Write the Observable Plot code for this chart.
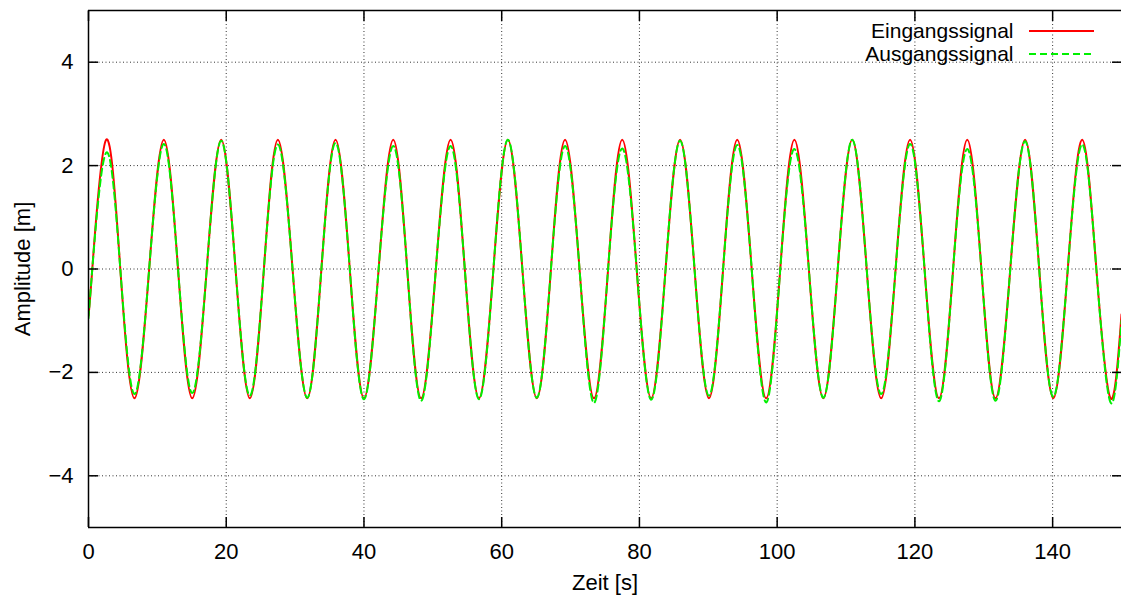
<!DOCTYPE html>
<html><head><meta charset="utf-8">
<script src="https://cdn.jsdelivr.net/npm/d3@7"></script>
<script src="https://cdn.jsdelivr.net/npm/@observablehq/plot@0.6"></script>
<style>body{margin:0;background:#fff} #chart{position:relative;width:1121px;height:602px}</style>
</head><body><div id="chart"></div>
<script>
// Knot times (s): start, zero crossings, peaks and troughs
const time = [0, 0.55,
  2.57, 4.62, 6.68, 8.81,
  10.94, 13.0, 15.06, 17.17,
  19.27, 21.35, 23.43, 25.47,
  27.5, 29.63, 31.76, 33.82,
  35.87, 37.94, 40.0, 42.13,
  44.25, 46.28, 48.3, 50.44,
  52.58, 54.64, 56.7, 58.8,
  60.9, 63.0, 65.1, 67.15,
  69.2, 71.3, 73.4, 75.45,
  77.5, 79.6, 81.7, 83.8,
  85.9, 88.0, 90.1, 92.15,
  94.2, 96.3, 98.4, 100.45,
  102.5, 104.6, 106.7, 108.8,
  110.9, 113.0, 115.1, 117.2,
  119.3, 121.4, 123.5, 125.55,
  127.6, 129.65, 131.7, 133.85,
  136.0, 138.05, 140.1, 142.2,
  144.3, 146.35, 148.4,
  150];
const eingang = [-0.9, 0,
  2.5, 0, -2.5, 0,
  2.5, 0, -2.5, 0,
  2.5, 0, -2.5, 0,
  2.5, 0, -2.5, 0,
  2.5, 0, -2.5, 0,
  2.5, 0, -2.5, 0,
  2.5, 0, -2.5, 0,
  2.5, 0, -2.5, 0,
  2.5, 0, -2.5, 0,
  2.5, 0, -2.5, 0,
  2.5, 0, -2.5, 0,
  2.5, 0, -2.5, 0,
  2.5, 0, -2.5, 0,
  2.5, 0, -2.5, 0,
  2.5, 0, -2.5, 0,
  2.5, 0, -2.5, 0,
  2.5, 0, -2.5, 0,
  2.5, 0, -2.5,
  -0.88];
const ausgang = [-0.95, 0,
  2.25, 0, -2.42, 0,
  2.42, 0, -2.40, 0,
  2.48, 0, -2.45, 0,
  2.41, 0, -2.49, 0,
  2.44, 0, -2.52, 0,
  2.38, 0, -2.55, 0,
  2.38, 0, -2.52, 0,
  2.50, 0, -2.49, 0,
  2.38, 0, -2.59, 0,
  2.33, 0, -2.53, 0,
  2.48, 0, -2.45, 0,
  2.40, 0, -2.58, 0,
  2.32, 0, -2.49, 0,
  2.50, 0, -2.42, 0,
  2.42, 0, -2.56, 0,
  2.32, 0, -2.55, 0,
  2.47, 0, -2.47, 0,
  2.41, 0, -2.58,
  -1.0];
const seriesNames = ["Eingangssignal", "Ausgangssignal"];
const seriesColors = ["#ff0000", "#00f000"];
const xTicks = [0, 20, 40, 60, 80, 100, 120, 140];
const yTicks = [-4, -2, 0, 2, 4];
const xGrid = [20, 40, 60, 80, 100, 120, 140];
const yGrid = [-4, -2, 0, 2, 4];
const xDomain = [0, 150];
const yDomain = [-5, 5];
const xLabel = "Zeit [s]";
const yLabel = "Amplitude [m]";

const rowsIn = time.map((t, i) => ({t, v: eingang[i]}));
const rowsOut = time.map((t, i) => ({t, v: ausgang[i]}));
const font = "'Liberation Sans', Arial, Helvetica, sans-serif";
const FS = 22;
const gridStyle = {stroke: "#000", strokeOpacity: 0.8, strokeDasharray: "1,2.5", strokeWidth: 1};
const fmt = d => d < 0 ? "\u2212" + Math.abs(d) : String(d);

const chart = Plot.plot({
  width: 1121, height: 602,
  marginLeft: 88, marginRight: 0, marginTop: 10, marginBottom: 75,
  style: {fontFamily: font, fontSize: FS + "px", color: "#000", background: "#fff", overflow: "visible"},
  x: {domain: xDomain, label: null},
  y: {domain: yDomain, label: null},
  marks: [
    Plot.ruleX(xGrid, gridStyle),
    Plot.ruleY(yGrid, gridStyle),
    Plot.line(rowsIn, {x: "t", y: "v", curve: "natural", stroke: seriesColors[0], strokeWidth: 2, clip: true}),
    Plot.line(rowsOut, {x: "t", y: "v", curve: "natural", stroke: seriesColors[1], strokeWidth: 2, strokeDasharray: "7,4", clip: true}),
    Plot.ruleX([xDomain[0]], {stroke: "#000", strokeWidth: 1.5}),
    Plot.ruleY(yDomain, {stroke: "#000", strokeWidth: 1.5}),
    Plot.axisX(xTicks, {anchor: "bottom", tickSize: -10, tickPadding: 26, strokeWidth: 1.5, label: null, tickFormat: fmt, fontSize: FS}),
    Plot.axisX(xTicks, {anchor: "top", tickSize: -10, strokeWidth: 1.5, label: null, tickFormat: () => ""}),
    Plot.axisY(yTicks, {anchor: "left", tickSize: -10, tickPadding: 25, strokeWidth: 1.5, label: null, tickFormat: fmt, fontSize: FS}),
    Plot.axisY(yTicks, {anchor: "right", tickSize: -10, strokeWidth: 1.5, label: null, tickFormat: () => ""}),
    Plot.text([xLabel], {frameAnchor: "bottom", lineAnchor: "middle", textAnchor: "middle", dy: 55, text: d => d, fontSize: FS}),
    Plot.text([yLabel], {frameAnchor: "left", textAnchor: "middle", lineAnchor: "middle", dx: -66, rotate: -90, text: d => d, fontSize: FS}),
    Plot.text([seriesNames[0]], {frameAnchor: "top-right", textAnchor: "end", lineAnchor: "middle", dx: -108, dy: 21, text: d => d, fontSize: 21}),
    Plot.text([seriesNames[1]], {frameAnchor: "top-right", textAnchor: "end", lineAnchor: "middle", dx: -108, dy: 44, text: d => d, fontSize: 21})
  ]
});
document.getElementById("chart").appendChild(chart);

// Legend line samples
const svg = d3.select(chart);
seriesNames.forEach((name, i) => {
  svg.append("line")
    .attr("x1", 1029).attr("x2", 1094)
    .attr("y1", 31 + 23 * i).attr("y2", 31 + 23 * i)
    .attr("stroke", seriesColors[i]).attr("stroke-width", 2)
    .attr("stroke-dasharray", i === 1 ? "7,4" : null);
});
</script>
</body></html>
